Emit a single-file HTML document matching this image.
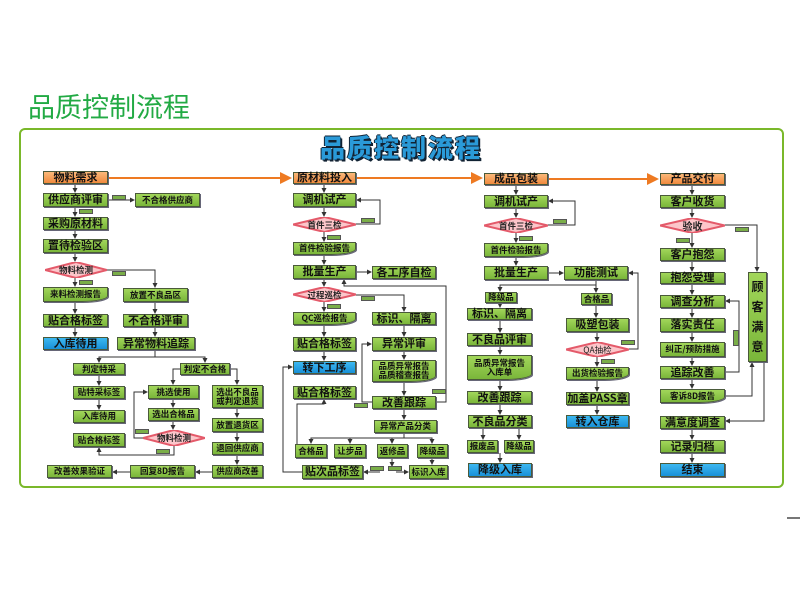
<!DOCTYPE html>
<html><head><meta charset="utf-8"><style>
*{margin:0;padding:0;box-sizing:border-box}
body{width:800px;height:600px;background:#fff;position:relative;overflow:hidden;font-family:"Liberation Sans","Noto Sans CJK SC",sans-serif}
.t{position:absolute;left:28px;top:86px;font-size:27px;color:#22aa44;font-family:"Noto Sans CJK SC",sans-serif;letter-spacing:0px}
.fr{position:absolute;left:19px;top:128px;width:765px;height:360px;border:2.5px solid #7ab82a;border-radius:6px}
.bt{position:absolute;left:320px;top:132px;font-size:25px;font-weight:900;color:#2a9ad8;font-family:"Noto Sans CJK SC",sans-serif;text-shadow:1px 1px 0 #123,2px 2px 0 #123,-1px 0 0 #123,0 -1px 0 #123;letter-spacing:2px;line-height:30px}
.b{position:absolute;background:linear-gradient(#a2d65a,#7ab63a);border:1.5px solid #4a5a3a;box-shadow:1px 1px 0 #667;color:#111;font-weight:bold;font-size:11px;display:flex;align-items:center;justify-content:center;text-align:center;line-height:1.05;white-space:nowrap;font-family:"Noto Sans CJK SC",sans-serif}
.s{font-size:8.5px}
.o{background:linear-gradient(#fbb97a,#f08a3e)}
.bl{background:linear-gradient(#3cb8f0,#1890d8)}
.w{border-bottom-left-radius:0;border-bottom-right-radius:40% 6px}
.d{position:absolute;display:flex;align-items:center;justify-content:center;font-size:8.5px;font-weight:bold;color:#222;font-family:"Noto Sans CJK SC",sans-serif}
.d svg{position:absolute;left:0;top:0}
.d span{position:relative}
.l{position:absolute;width:14px;height:5px;background:#7aae48;border:1px solid #555}
</style></head><body>
<div class="t">品质控制流程</div>
<div class="fr"></div>
<div class="bt">品质控制流程</div>
<div style="position:absolute;left:787px;top:517px;width:13px;height:2px;background:#777"></div>

<svg width="800" height="600" style="position:absolute;left:0;top:0">
<defs><marker id="a" markerWidth="5" markerHeight="5" refX="4" refY="2.5" orient="auto"><path d="M0,0L5,2.5L0,5z" fill="#333"/></marker>
<marker id="ao" markerWidth="6" markerHeight="6" refX="5" refY="3" orient="auto"><path d="M0,0L6,3L0,6z" fill="#ee7a22"/></marker></defs>
<g stroke="#ee7a22" stroke-width="2" fill="none">
<line x1="108" y1="178" x2="290" y2="178" marker-end="url(#ao)"/>
<line x1="356" y1="178" x2="481" y2="178" marker-end="url(#ao)"/>
<line x1="548" y1="179" x2="657" y2="179" marker-end="url(#ao)"/>
</g>
<g stroke="#333" stroke-width="1" fill="none" marker-end="url(#a)">
<line x1="75" y1="184" x2="75" y2="192"/><line x1="75" y1="207" x2="75" y2="216"/><line x1="75" y1="230" x2="75" y2="238"/><line x1="75" y1="253" x2="75" y2="261"/><line x1="75" y1="278" x2="75" y2="286"/><line x1="75" y1="302" x2="75" y2="313"/><line x1="75" y1="327" x2="75" y2="336"/>
<line x1="108" y1="200" x2="134" y2="200"/>
<polyline points="107,270 155,270 155,287"/>
<line x1="155" y1="302" x2="155" y2="313"/><line x1="155" y1="327" x2="155" y2="336"/>
<polyline points="155,350 155,357 99,357 99,362"/><polyline points="155,357 205,357 205,362"/>
<line x1="99" y1="375" x2="99" y2="385"/><line x1="99" y1="399" x2="99" y2="409"/>
<polyline points="180,369 173,369 173,384"/><polyline points="230,369 237,369 237,384"/>
<line x1="173" y1="399" x2="173" y2="407"/><line x1="173" y1="421" x2="173" y2="429"/>
<line x1="237" y1="408" x2="237" y2="417"/><line x1="237" y1="432" x2="237" y2="441"/><line x1="237" y1="455" x2="237" y2="464"/>
<polyline points="150,438 134,438 134,392 147,392"/>
<polyline points="174,446 174,455 99,455 99,448"/>
<line x1="212" y1="472" x2="196" y2="472"/><line x1="130" y1="472" x2="113" y2="472"/>
<line x1="324" y1="183" x2="324" y2="192"/><line x1="324" y1="207" x2="324" y2="216"/><line x1="324" y1="232" x2="324" y2="241"/><line x1="324" y1="255" x2="324" y2="264"/><line x1="324" y1="279" x2="324" y2="286"/><line x1="324" y1="302" x2="324" y2="311"/><line x1="324" y1="325" x2="324" y2="336"/><line x1="324" y1="351" x2="324" y2="360"/>
<polyline points="356,224 380,224 380,200 357,200"/>
<line x1="356" y1="272" x2="371" y2="272"/>
<polyline points="356,295 404,295 404,311"/><line x1="404" y1="325" x2="404" y2="336"/><line x1="404" y1="351" x2="404" y2="359"/><line x1="404" y1="382" x2="404" y2="395"/><line x1="404" y1="409" x2="404" y2="419"/>
<polyline points="436,402 446,402 446,286 344,286 344,280"/>
<polyline points="372,402 362,402 362,344 371,344"/>
<polyline points="404,433 404,438 311,438 311,443"/><line x1="350" y1="438" x2="350" y2="443"/><line x1="392" y1="438" x2="392" y2="443"/><polyline points="404,438 432,438 432,443"/>
<polyline points="297,444 297,404 324,404 324,400"/>
<polyline points="302,472 283,472 283,367 292,367"/>
<line x1="392" y1="458" x2="392" y2="466"/><line x1="432" y1="458" x2="432" y2="464"/>
<line x1="380" y1="472" x2="364" y2="472"/><line x1="396" y1="472" x2="408" y2="472"/>
<line x1="516" y1="185" x2="516" y2="194"/><line x1="516" y1="208" x2="516" y2="217"/><line x1="516" y1="233" x2="516" y2="242"/><line x1="516" y1="257" x2="516" y2="265"/>
<polyline points="548,225 575,225 575,201 549,201"/>
<line x1="548" y1="273" x2="563" y2="273"/>
<polyline points="596,280 596,285 500,285 500,291"/><polyline points="596,285 596,292"/>
<line x1="500" y1="303" x2="500" y2="307"/><line x1="500" y1="320" x2="500" y2="332"/><line x1="500" y1="346" x2="500" y2="354"/><line x1="500" y1="380" x2="500" y2="390"/><line x1="500" y1="404" x2="500" y2="414"/>
<line x1="483" y1="428" x2="483" y2="439"/><line x1="519" y1="428" x2="519" y2="439"/><line x1="500" y1="453" x2="500" y2="462"/>
<line x1="596" y1="305" x2="596" y2="317"/><line x1="597" y1="332" x2="597" y2="341"/><line x1="597" y1="357" x2="597" y2="366"/><line x1="597" y1="380" x2="597" y2="391"/><line x1="597" y1="405" x2="597" y2="414"/>
<polyline points="629,349 638,349 638,273 629,273"/>
<line x1="692" y1="185" x2="692" y2="194"/><line x1="692" y1="208" x2="692" y2="217"/><line x1="692" y1="233" x2="692" y2="247"/><line x1="692" y1="261" x2="692" y2="271"/><line x1="692" y1="284" x2="692" y2="294"/><line x1="692" y1="308" x2="692" y2="317"/><line x1="692" y1="332" x2="692" y2="341"/><line x1="692" y1="357" x2="692" y2="365"/><line x1="692" y1="379" x2="692" y2="388"/><line x1="692" y1="429" x2="692" y2="439"/><line x1="692" y1="453" x2="692" y2="462"/>
<polyline points="725,225 757,225 757,271"/>
<polyline points="725,372 739,372 739,301 726,301"/>
<polyline points="725,396 752,396 752,363"/>
<polyline points="764,362 764,421 726,421"/>
</g>
</svg>

<div class="b o" style="left:43px;top:171px;width:65px;height:13px">物料需求</div>
<div class="b" style="left:43px;top:193px;width:65px;height:14px">供应商评审</div>
<div class="l" style="left:112px;top:195px"></div>
<div class="b s" style="left:135px;top:193px;width:65px;height:14px">不合格供应商</div>
<div class="l" style="left:79px;top:209px"></div>
<div class="b" style="left:43px;top:217px;width:65px;height:13px">采购原材料</div>
<div class="b" style="left:43px;top:239px;width:65px;height:14px">置待检验区</div>
<div class="d" style="left:45px;top:262px;width:62px;height:16px"><svg width="62" height="16"><polygon points="0,8 31,0 62,8 31,16" fill="#fcc6ca" stroke="#e45a6a" stroke-width="2"/></svg><span>物料检测</span></div>
<div class="l" style="left:112px;top:271px"></div>
<div class="l" style="left:79px;top:280px"></div>
<div class="b s w" style="left:43px;top:287px;width:65px;height:15px">来料检测报告</div>
<div class="b s" style="left:123px;top:288px;width:65px;height:14px">放置不良品区</div>
<div class="b" style="left:43px;top:314px;width:65px;height:13px">贴合格标签</div>
<div class="b" style="left:123px;top:314px;width:65px;height:13px">不合格评审</div>
<div class="b bl" style="left:43px;top:337px;width:65px;height:13px">入库待用</div>
<div class="b" style="left:117px;top:337px;width:78px;height:13px">异常物料追踪</div>
<div class="b s" style="left:73px;top:363px;width:52px;height:12px">判定特采</div>
<div class="b s" style="left:180px;top:363px;width:50px;height:12px">判定不合格</div>
<div class="b s" style="left:73px;top:386px;width:52px;height:13px">贴特采标签</div>
<div class="b s" style="left:148px;top:385px;width:51px;height:14px">挑选使用</div>
<div class="b s" style="left:212px;top:385px;width:51px;height:23px">选出不良品<br>或判定退货</div>
<div class="b s" style="left:73px;top:410px;width:52px;height:13px">入库待用</div>
<div class="b s" style="left:148px;top:408px;width:51px;height:13px">选出合格品</div>
<div class="b s" style="left:212px;top:418px;width:51px;height:14px">放置退货区</div>
<div class="b s" style="left:73px;top:433px;width:52px;height:14px">贴合格标签</div>
<div class="d" style="left:143px;top:430px;width:62px;height:16px"><svg width="62" height="16"><polygon points="0,8 31,0 62,8 31,16" fill="#fcc6ca" stroke="#e45a6a" stroke-width="2"/></svg><span>物料检测</span></div>
<div class="l" style="left:135px;top:429px"></div>
<div class="l" style="left:156px;top:449px"></div>
<div class="b s" style="left:212px;top:442px;width:51px;height:13px">退回供应商</div>
<div class="b s" style="left:47px;top:465px;width:65px;height:13px">改善效果验证</div>
<div class="b s" style="left:130px;top:465px;width:65px;height:13px">回复8D报告</div>
<div class="b s" style="left:212px;top:465px;width:51px;height:13px">供应商改善</div>

<div class="b o" style="left:293px;top:172px;width:63px;height:12px">原材料投入</div>
<div class="b" style="left:293px;top:193px;width:63px;height:14px">调机试产</div>
<div class="d" style="left:293px;top:217px;width:63px;height:15px"><svg width="63" height="15"><polygon points="0,7.5 31.5,0 63,7.5 31.5,15" fill="#fcc6ca" stroke="#e45a6a" stroke-width="2"/></svg><span>首件三检</span></div>
<div class="l" style="left:361px;top:218px"></div><div class="l" style="left:327px;top:235px"></div>
<div class="b s w" style="left:293px;top:242px;width:63px;height:13px">首件检验报告</div>
<div class="b" style="left:293px;top:265px;width:63px;height:14px">批量生产</div>
<div class="b" style="left:372px;top:266px;width:64px;height:13px">各工序自检</div>
<div class="d" style="left:293px;top:287px;width:63px;height:15px"><svg width="63" height="15"><polygon points="0,7.5 31.5,0 63,7.5 31.5,15" fill="#fcc6ca" stroke="#e45a6a" stroke-width="2"/></svg><span>过程巡检</span></div>
<div class="l" style="left:361px;top:296px"></div><div class="l" style="left:327px;top:304px"></div>
<div class="b s w" style="left:293px;top:312px;width:63px;height:13px">QC巡检报告</div>
<div class="b" style="left:372px;top:312px;width:64px;height:13px">标识、隔离</div>
<div class="b" style="left:293px;top:337px;width:63px;height:14px">贴合格标签</div>
<div class="b" style="left:372px;top:337px;width:64px;height:14px">异常评审</div>
<div class="b bl" style="left:293px;top:361px;width:63px;height:13px">转下工序</div>
<div class="b s w" style="left:372px;top:360px;width:64px;height:22px">品质异常报告<br>品质稽查报告</div>
<div class="b" style="left:293px;top:386px;width:63px;height:13px">贴合格标签</div>
<div class="l" style="left:432px;top:389px"></div><div class="l" style="left:354px;top:403px"></div>
<div class="b" style="left:372px;top:396px;width:64px;height:13px">改善跟踪</div>
<div class="b s" style="left:374px;top:420px;width:63px;height:13px">异常产品分类</div>
<div class="b s" style="left:295px;top:444px;width:32px;height:14px">合格品</div>
<div class="b s" style="left:334px;top:444px;width:32px;height:14px">让步品</div>
<div class="b s" style="left:377px;top:444px;width:31px;height:14px">返修品</div>
<div class="b s" style="left:417px;top:444px;width:31px;height:14px">降级品</div>
<div class="b" style="left:302px;top:465px;width:61px;height:14px">贴次品标签</div>
<div class="l" style="left:370px;top:466px"></div><div class="l" style="left:388px;top:466px"></div>
<div class="b s" style="left:409px;top:465px;width:39px;height:14px">标识入库</div>

<div class="b o" style="left:484px;top:173px;width:64px;height:12px">成品包装</div>
<div class="b" style="left:484px;top:195px;width:64px;height:13px">调机试产</div>
<div class="d" style="left:484px;top:218px;width:64px;height:15px"><svg width="64" height="15"><polygon points="0,7.5 32,0 64,7.5 32,15" fill="#fcc6ca" stroke="#e45a6a" stroke-width="2"/></svg><span>首件三检</span></div>
<div class="l" style="left:553px;top:219px"></div><div class="l" style="left:519px;top:236px"></div>
<div class="b s w" style="left:484px;top:243px;width:64px;height:14px">首件检验报告</div>
<div class="b" style="left:484px;top:266px;width:64px;height:14px">批量生产</div>
<div class="b" style="left:564px;top:266px;width:64px;height:14px">功能测试</div>
<div class="b s" style="left:485px;top:292px;width:32px;height:11px">降级品</div>
<div class="b" style="left:467px;top:308px;width:65px;height:12px">标识、隔离</div>
<div class="b s" style="left:581px;top:293px;width:31px;height:12px">合格品</div>
<div class="b" style="left:566px;top:318px;width:63px;height:14px">吸塑包装</div>
<div class="b" style="left:467px;top:333px;width:65px;height:13px">不良品评审</div>
<div class="d" style="left:566px;top:342px;width:63px;height:15px"><svg width="63" height="15"><polygon points="0,7.5 31.5,0 63,7.5 31.5,15" fill="#fcc6ca" stroke="#e45a6a" stroke-width="2"/></svg><span style="font-weight:normal">QA抽检</span></div>
<div class="l" style="left:621px;top:340px"></div><div class="l" style="left:601px;top:359px"></div>
<div class="b s w" style="left:467px;top:355px;width:65px;height:25px">品质异常报告<br>入库单</div>
<div class="b s w" style="left:566px;top:367px;width:63px;height:13px">出货检验报告</div>
<div class="b" style="left:566px;top:392px;width:63px;height:13px">加盖PASS章</div>
<div class="b" style="left:467px;top:391px;width:65px;height:13px">改善跟踪</div>
<div class="b bl" style="left:566px;top:415px;width:63px;height:13px">转入仓库</div>
<div class="b" style="left:468px;top:415px;width:64px;height:13px">不良品分类</div>
<div class="b s" style="left:467px;top:440px;width:31px;height:13px">报废品</div>
<div class="b s" style="left:504px;top:440px;width:30px;height:13px">降级品</div>
<div class="b bl" style="left:468px;top:463px;width:64px;height:14px">降级入库</div>

<div class="b o" style="left:660px;top:173px;width:65px;height:12px">产品交付</div>
<div class="b" style="left:660px;top:195px;width:65px;height:13px">客户收货</div>
<div class="d" style="left:660px;top:218px;width:65px;height:15px;font-size:10px"><svg width="65" height="15"><polygon points="0,7.5 32.5,0 65,7.5 32.5,15" fill="#fcc6ca" stroke="#e45a6a" stroke-width="2"/></svg><span>验收</span></div>
<div class="l" style="left:735px;top:227px"></div><div class="l" style="left:676px;top:238px"></div>
<div class="b" style="left:660px;top:248px;width:65px;height:13px">客户抱怨</div>
<div class="b" style="left:660px;top:272px;width:65px;height:12px">抱怨受理</div>
<div class="b" style="left:660px;top:295px;width:65px;height:13px">调查分析</div>
<div class="b" style="left:660px;top:318px;width:65px;height:14px">落实责任</div>
<div class="b s" style="left:660px;top:342px;width:65px;height:15px">纠正/预防措施</div>
<div class="l" style="left:733px;top:330px;width:6px;height:16px"></div>
<div class="b" style="left:660px;top:366px;width:65px;height:13px">追踪改善</div>
<div class="b s w" style="left:660px;top:389px;width:65px;height:14px">客诉8D报告</div>
<div class="b" style="left:660px;top:416px;width:65px;height:13px">满意度调查</div>
<div class="b" style="left:660px;top:440px;width:65px;height:13px">记录归档</div>
<div class="b bl" style="left:660px;top:463px;width:65px;height:14px">结束</div>
<div class="b" style="left:748px;top:272px;width:19px;height:90px;white-space:normal;font-size:12px;line-height:20px;padding:0 2px">顾客满意</div>
</body></html>
